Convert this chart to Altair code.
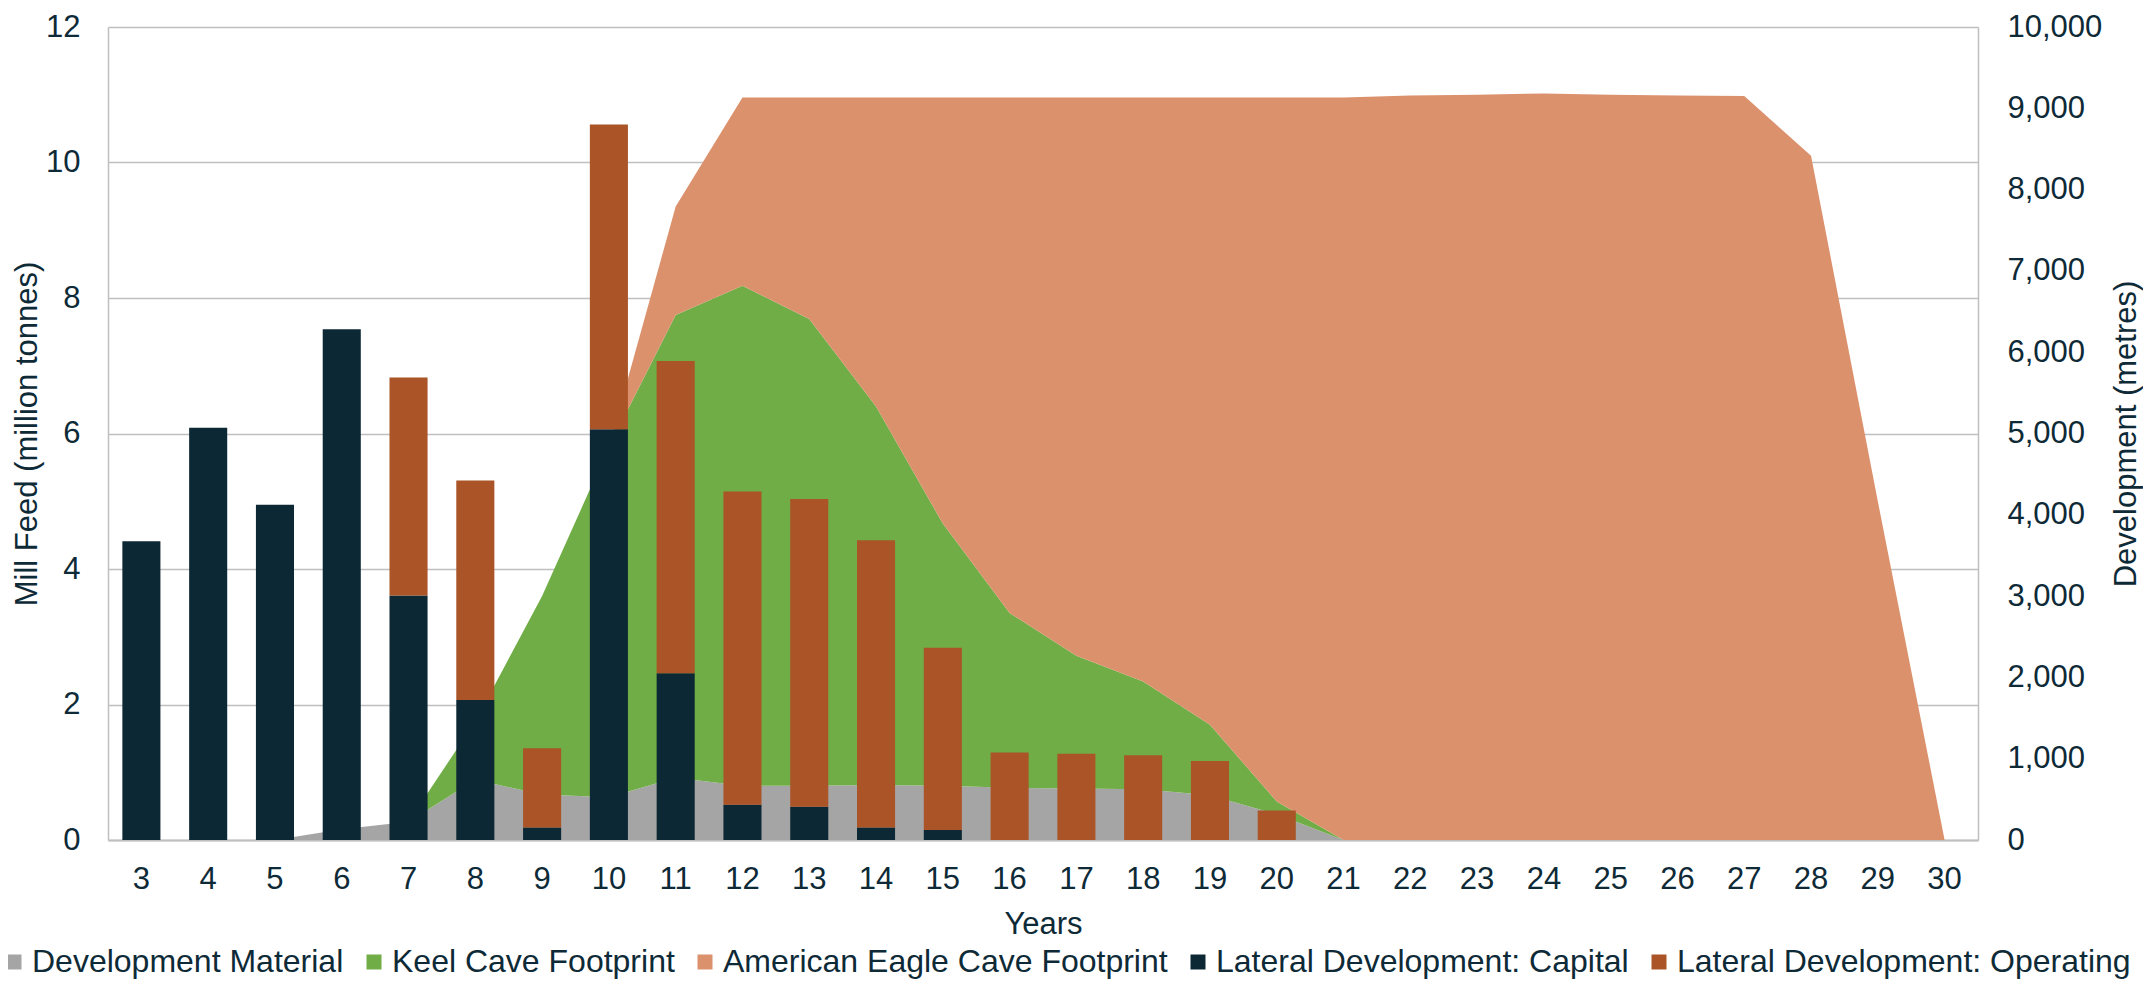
import altair as alt
import pandas as pd

years = list(range(3, 31))

# Mill Feed (million tonnes) - stacked areas, left axis
dev_material = [0, 0, 0, 0.16, 0.27, 0.89, 0.67, 0.63, 0.92, 0.80, 0.80, 0.81, 0.80, 0.77,
                0.76, 0.75, 0.66, 0.38, 0, 0, 0, 0, 0, 0, 0, 0, 0, 0]
keel = [0, 0, 0, 0, 0, 0.86, 2.93, 5.17, 6.83, 7.38, 6.89, 5.59, 3.87, 2.58,
        1.96, 1.59, 1.04, 0.19, 0, 0, 0, 0, 0, 0, 0, 0, 0, 0]
american_eagle = [0, 0, 0, 0, 0, 0, 0, 0, 1.60, 2.78, 3.27, 4.56, 6.29, 7.61,
                  8.24, 8.62, 9.26, 10.39, 10.96, 10.99, 11.00, 11.02, 11.00, 10.99, 10.98, 10.10, 5.00, 0]

# Development (metres) - stacked bars, right axis
capital = [3675, 5070, 4125, 6283, 3008, 1723, 155, 5053, 2050, 435, 409, 153, 122, 0,
           0, 0, 0, 0, 0, 0, 0, 0, 0, 0, 0, 0, 0, 0]
operating = [0, 0, 0, 0, 2681, 2698, 974, 3747, 3842, 3852, 3785, 3533, 2243, 1076,
             1061, 1043, 973, 363, 0, 0, 0, 0, 0, 0, 0, 0, 0, 0]

SERIES = ["Development Material", "Keel Cave Footprint", "American Eagle Cave Footprint",
          "Lateral Development: Capital", "Lateral Development: Operating"]
COLORS = ["#A5A5A5", "#70AD47", "#DC916D", "#0C2834", "#AA5427"]

area_rows = []
for k, (name, vals) in enumerate(zip(SERIES[:3], [dev_material, keel, american_eagle])):
    for yr, v in zip(years, vals):
        area_rows.append({"year": yr, "feed": v, "series": name, "ord": k})
area_df = pd.DataFrame(area_rows)

bar_rows = []
for k, (name, vals) in enumerate(zip(SERIES[3:], [capital, operating])):
    for yr, v in zip(years, vals):
        if v > 0:
            bar_rows.append({"year": yr, "metres": v, "series": name, "ord": k})
bar_df = pd.DataFrame(bar_rows)

FONT = "Liberation Sans"
TXT = "#0E2A37"

W, H = 1870, 813

color = alt.Color(
    "series:N",
    scale=alt.Scale(domain=SERIES, range=COLORS),
    legend=alt.Legend(
        title=None, orient="none", legendX=-110, legendY=919, offset=0, direction="horizontal",
        gridAlign="none", symbolType="square", symbolSize=225, labelFontSize=32, labelLimit=1000,
        columnPadding=14, labelOffset=2, symbolStrokeWidth=0, symbolOpacity=1, padding=0,
        labelColor=TXT, labelFont=FONT,
    ),
)

x_scale = alt.Scale(domain=years, paddingInner=0.43, paddingOuter=0.215)
x_axis = alt.Axis(
    title="Years", labelAngle=0, ticks=False, labelPadding=48, labelBaseline="alphabetic",
    titleX=W / 2, titleY=93, titleBaseline="alphabetic", titleAlign="center", domainWidth=2,
)

areas = alt.Chart(area_df).mark_area(interpolate="linear", opacity=1).encode(
    x=alt.X("year:O", scale=x_scale, axis=x_axis, bandPosition=0.5),
    y=alt.Y(
        "feed:Q", stack="zero",
        scale=alt.Scale(domain=[0, 12], nice=False),
        axis=alt.Axis(
            title="Mill Feed (million tonnes)", orient="left", values=[0, 2, 4, 6, 8, 10, 12],
            grid=True, ticks=False, labelPadding=28, titleX=-72, titleY=H / 2,
            titleAngle=270, titleBaseline="alphabetic", titleAlign="center",
        ),
    ),
    color=color,
    order=alt.Order("ord:Q", sort="ascending"),
)

bars = alt.Chart(bar_df).mark_bar().encode(
    x=alt.X("year:O", scale=x_scale, axis=x_axis),
    y=alt.Y(
        "metres:Q", stack="zero",
        scale=alt.Scale(domain=[0, 10000], nice=False),
        axis=alt.Axis(
            title="Development (metres)", orient="right", values=list(range(0, 10001, 1000)),
            format=",.0f", grid=False, ticks=False, labelPadding=29, titleX=157, titleY=H / 2,
            titleAngle=270, titleBaseline="alphabetic", titleAlign="center",
        ),
    ),
    color=color,
    order=alt.Order("ord:Q", sort="ascending"),
)

chart = (
    alt.layer(areas, bars)
    .resolve_scale(y="independent")
    .properties(
        width=W, height=H,
        autosize=alt.AutoSizeParams(type="none"),
        padding={"left": 100, "top": 19, "right": 165, "bottom": 140},
        background="white",
    )
    .configure_view(strokeWidth=0)
    .configure_axis(
        labelFont=FONT, labelFontSize=31, labelColor=TXT,
        titleFont=FONT, titleFontSize=31, titleColor=TXT, titleFontWeight="normal",
        domainColor="#BFBFBF", domainWidth=1.5, gridColor="#BFBFBF", gridWidth=1.5,
    )
)

chart.save("out.html", embed_options={"renderer": "svg", "actions": False})
